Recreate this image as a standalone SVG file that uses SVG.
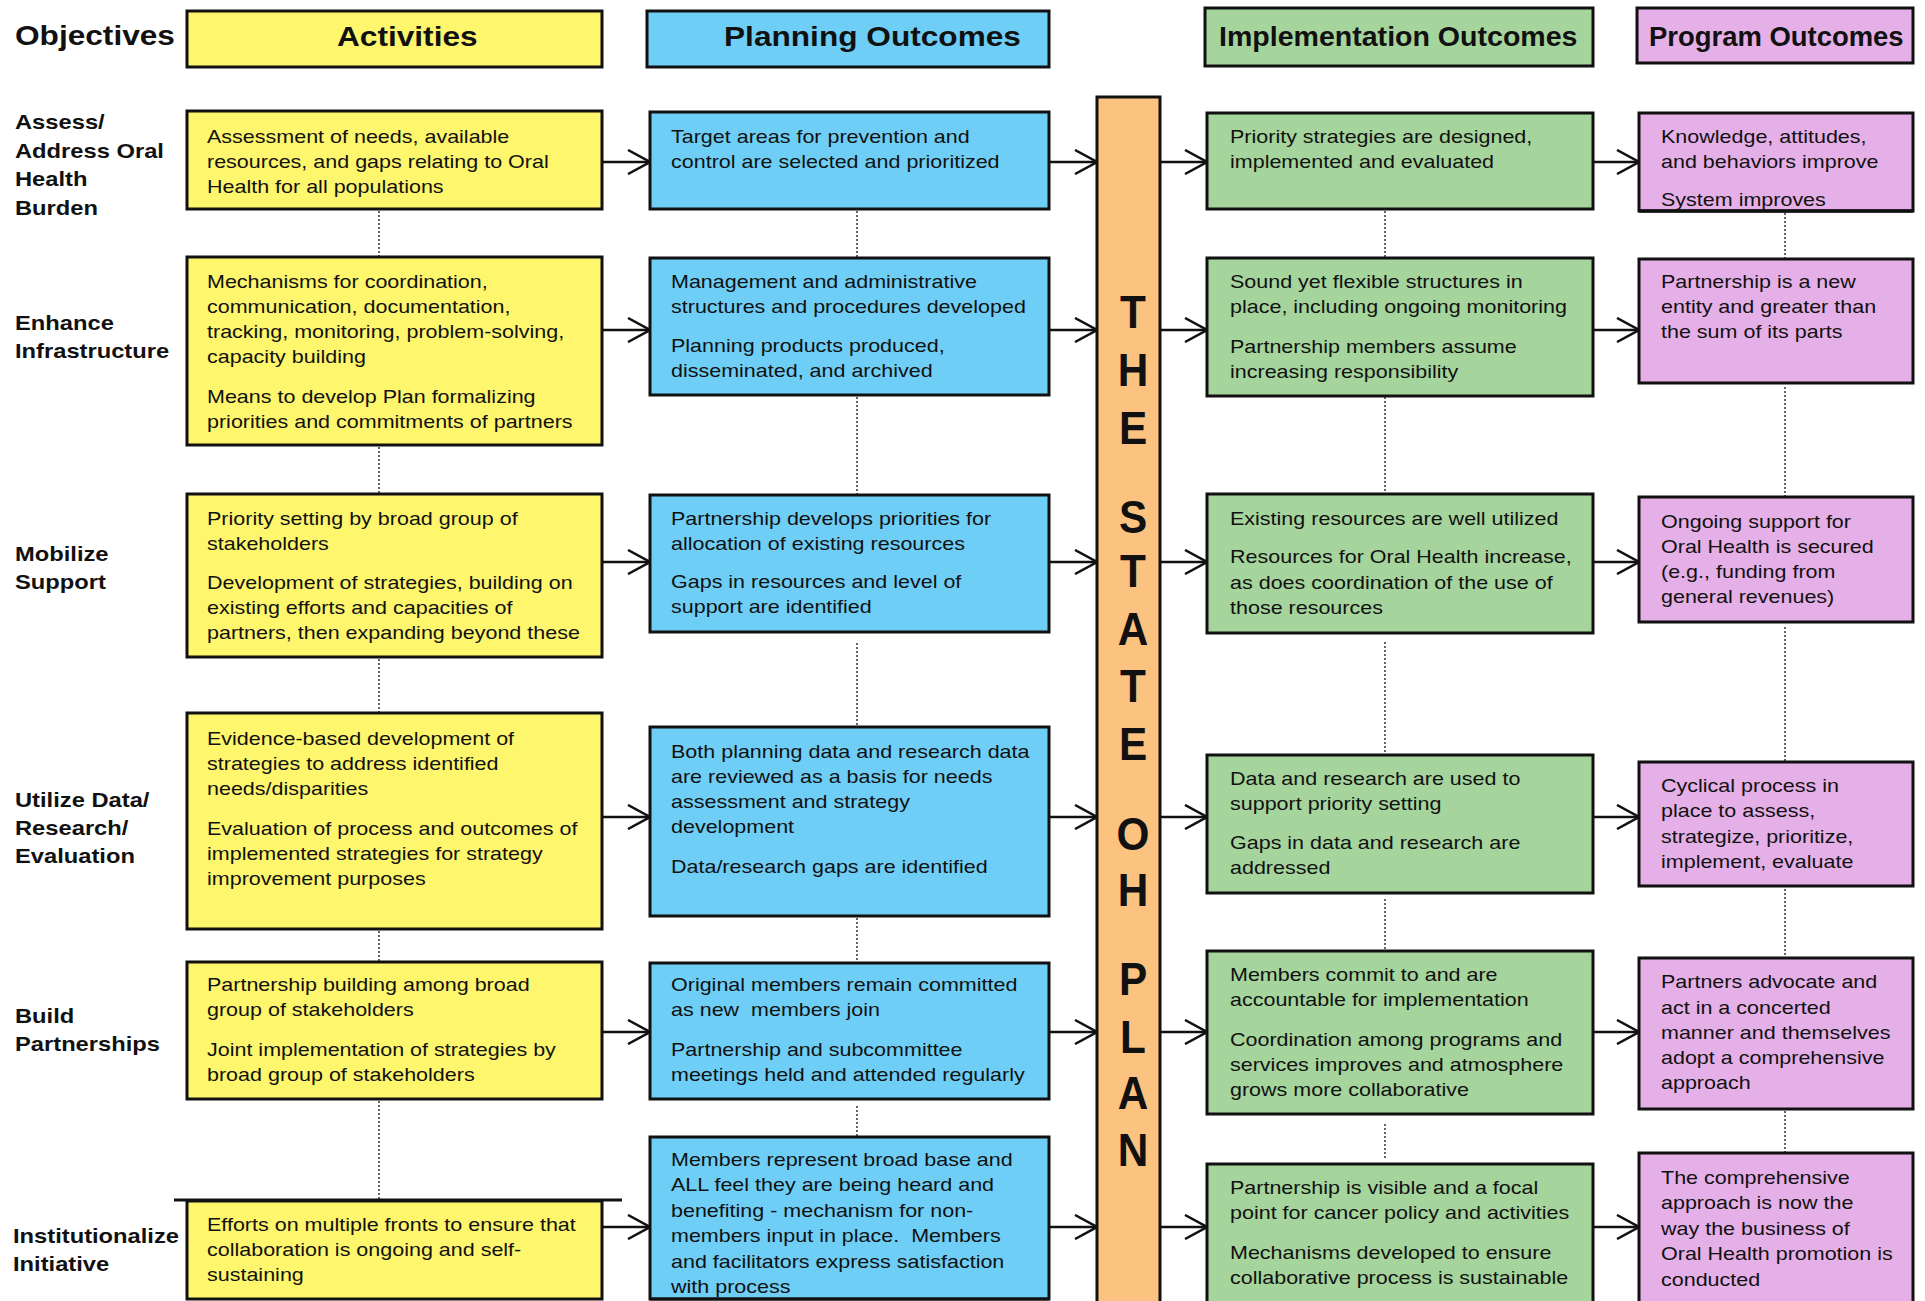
<svg xmlns="http://www.w3.org/2000/svg" width="1925" height="1301" viewBox="0 0 1925 1301">
<style>
.box{stroke:#111;stroke-width:3}
.y{fill:#FEF66C}.bl{fill:#6ECEF6}.g{fill:#A5D49C}.p{fill:#E5AFE7}.o{fill:#FCC27F}
text{font-family:"Liberation Sans",Arial,Helvetica,sans-serif;fill:#111}
.t{font-size:19.2px}
.lb{font-weight:bold;font-size:21px}
.hd{font-weight:bold;font-size:28px}
.bar{font-weight:bold;font-size:46px;text-anchor:middle}
.dot{stroke:#333;stroke-width:1.5;stroke-dasharray:2 2;fill:none}
.arr{stroke:#111;stroke-width:2.5;fill:none;marker-end:url(#ah)}
</style>
<defs>
<marker id="ah" viewBox="0 0 24 26" refX="23" refY="13" markerWidth="24" markerHeight="26" markerUnits="userSpaceOnUse" orient="auto"><path d="M1,1 L23,13 L1,25" fill="none" stroke="#111" stroke-width="2.5"/></marker>
</defs>
<rect width="1925" height="1301" fill="#fff"/>

<g id="headers">
<text class="hd" transform="translate(15,0) scale(1.13,1)"><tspan x="0" y="45">Objectives</tspan></text>
<g id="h-activities"><rect class="box y" x="187" y="11" width="415" height="56"/><text class="hd" transform="translate(337,0) scale(1.13,1)"><tspan x="0" y="46">Activities</tspan></text></g>
<g id="h-planning"><rect class="box bl" x="647" y="11" width="402" height="56"/><text class="hd" transform="translate(724,0) scale(1.13,1)"><tspan x="0" y="46">Planning Outcomes</tspan></text></g>
<g id="h-impl"><rect class="box g" x="1205" y="8" width="388" height="58"/><text class="hd" transform="translate(1219,0) scale(1.02,1)"><tspan x="0" y="46">Implementation Outcomes</tspan></text></g>
<g id="h-program"><rect class="box p" x="1637" y="8" width="276" height="55"/><text class="hd" transform="translate(1649,0) scale(0.98,1)"><tspan x="0" y="46">Program Outcomes</tspan></text></g>
</g>

<g id="objectives">
<text class="lb" transform="translate(15,0) scale(1.13,1)"><tspan x="0" y="129.5">Assess/</tspan><tspan x="0" y="158">Address Oral</tspan><tspan x="0" y="186.5">Health</tspan><tspan x="0" y="215">Burden</tspan></text>
<text class="lb" transform="translate(15,0) scale(1.13,1)"><tspan x="0" y="330">Enhance</tspan><tspan x="0" y="358">Infrastructure</tspan></text>
<text class="lb" transform="translate(15,0) scale(1.13,1)"><tspan x="0" y="561">Mobilize</tspan><tspan x="0" y="589">Support</tspan></text>
<text class="lb" transform="translate(15,0) scale(1.13,1)"><tspan x="0" y="807">Utilize Data/</tspan><tspan x="0" y="835">Research/</tspan><tspan x="0" y="863">Evaluation</tspan></text>
<text class="lb" transform="translate(15,0) scale(1.13,1)"><tspan x="0" y="1023">Build</tspan><tspan x="0" y="1051">Partnerships</tspan></text>
<text class="lb" transform="translate(13,0) scale(1.13,1)"><tspan x="0" y="1243">Institutionalize</tspan><tspan x="0" y="1271">Initiative</tspan></text>
</g>

<g id="connectors">
<line class="arr" x1="602" y1="162" x2="650" y2="162"/>
<line class="arr" x1="1049" y1="162" x2="1097" y2="162"/>
<line class="arr" x1="1160" y1="162" x2="1207" y2="162"/>
<line class="arr" x1="1593" y1="162" x2="1639" y2="162"/>
<line class="arr" x1="602" y1="330" x2="650" y2="330"/>
<line class="arr" x1="1049" y1="330" x2="1097" y2="330"/>
<line class="arr" x1="1160" y1="330" x2="1207" y2="330"/>
<line class="arr" x1="1593" y1="330" x2="1639" y2="330"/>
<line class="arr" x1="602" y1="562" x2="650" y2="562"/>
<line class="arr" x1="1049" y1="562" x2="1097" y2="562"/>
<line class="arr" x1="1160" y1="562" x2="1207" y2="562"/>
<line class="arr" x1="1593" y1="562" x2="1639" y2="562"/>
<line class="arr" x1="602" y1="817" x2="650" y2="817"/>
<line class="arr" x1="1049" y1="817" x2="1097" y2="817"/>
<line class="arr" x1="1160" y1="817" x2="1207" y2="817"/>
<line class="arr" x1="1593" y1="817" x2="1639" y2="817"/>
<line class="arr" x1="602" y1="1032" x2="650" y2="1032"/>
<line class="arr" x1="1049" y1="1032" x2="1097" y2="1032"/>
<line class="arr" x1="1160" y1="1032" x2="1207" y2="1032"/>
<line class="arr" x1="1593" y1="1032" x2="1639" y2="1032"/>
<line class="arr" x1="602" y1="1227" x2="650" y2="1227"/>
<line class="arr" x1="1049" y1="1227" x2="1097" y2="1227"/>
<line class="arr" x1="1160" y1="1227" x2="1207" y2="1227"/>
<line class="arr" x1="1593" y1="1227" x2="1639" y2="1227"/>
<line class="dot" x1="379" y1="211" x2="379" y2="257"/>
<line class="dot" x1="379" y1="447" x2="379" y2="494"/>
<line class="dot" x1="379" y1="659" x2="379" y2="713"/>
<line class="dot" x1="379" y1="931" x2="379" y2="962"/>
<line class="dot" x1="379" y1="1101" x2="379" y2="1199"/>
<line class="dot" x1="857" y1="211" x2="857" y2="258"/>
<line class="dot" x1="857" y1="397" x2="857" y2="495"/>
<line class="dot" x1="857" y1="643" x2="857" y2="727"/>
<line class="dot" x1="857" y1="918" x2="857" y2="963"/>
<line class="dot" x1="857" y1="1106" x2="857" y2="1137"/>
<line class="dot" x1="1385" y1="211" x2="1385" y2="258"/>
<line class="dot" x1="1385" y1="397" x2="1385" y2="494"/>
<line class="dot" x1="1385" y1="642" x2="1385" y2="755"/>
<line class="dot" x1="1385" y1="899" x2="1385" y2="951"/>
<line class="dot" x1="1385" y1="1124" x2="1385" y2="1158"/>
<line class="dot" x1="1785" y1="213" x2="1785" y2="259"/>
<line class="dot" x1="1785" y1="387" x2="1785" y2="497"/>
<line class="dot" x1="1785" y1="627" x2="1785" y2="762"/>
<line class="dot" x1="1785" y1="889" x2="1785" y2="958"/>
<line class="dot" x1="1785" y1="1111" x2="1785" y2="1153"/>
<line x1="174" y1="1200" x2="622" y2="1200" stroke="#111" stroke-width="3"/>
</g>

<g id="state-plan">
<rect class="box o" x="1097" y="97" width="63" height="1220"/>
<text class="bar" transform="translate(1133,0) scale(0.92,1)"><tspan x="0" y="328">T</tspan><tspan x="0" y="386">H</tspan><tspan x="0" y="444">E</tspan><tspan x="0" y="533">S</tspan><tspan x="0" y="587">T</tspan><tspan x="0" y="645">A</tspan><tspan x="0" y="702">T</tspan><tspan x="0" y="760">E</tspan><tspan x="0" y="850">O</tspan><tspan x="0" y="906">H</tspan><tspan x="0" y="995">P</tspan><tspan x="0" y="1053">L</tspan><tspan x="0" y="1109">A</tspan><tspan x="0" y="1166">N</tspan></text>
</g>

<g id="act1"><rect class="box y" x="187" y="111" width="415" height="98"/><text class="t" transform="translate(207,0) scale(1.12,1)"><tspan x="0" y="143.3">Assessment of needs, available</tspan><tspan x="0" y="168.3">resources, and gaps relating to Oral</tspan><tspan x="0" y="193.3">Health for all populations</tspan></text></g>
<g id="plan1"><rect class="box bl" x="650" y="112" width="399" height="97"/><text class="t" transform="translate(671,0) scale(1.12,1)"><tspan x="0" y="143.3">Target areas for prevention and</tspan><tspan x="0" y="168.3">control are selected and prioritized</tspan></text></g>
<g id="impl1"><rect class="box g" x="1207" y="113" width="386" height="96"/><text class="t" transform="translate(1230,0) scale(1.12,1)"><tspan x="0" y="143.3">Priority strategies are designed,</tspan><tspan x="0" y="168.3">implemented and evaluated</tspan></text></g>
<g id="prog1"><rect class="box p" x="1639" y="113" width="274" height="98"/><text class="t" transform="translate(1661,0) scale(1.12,1)"><tspan x="0" y="143.3">Knowledge, attitudes,</tspan><tspan x="0" y="168.3">and behaviors improve</tspan><tspan x="0" y="206">System improves</tspan></text><line x1="1639" y1="211" x2="1913" y2="211" stroke="#111" stroke-width="3.5"/></g>

<g id="act2"><rect class="box y" x="187" y="257" width="415" height="188"/><text class="t" transform="translate(207,0) scale(1.12,1)"><tspan x="0" y="288">Mechanisms for coordination,</tspan><tspan x="0" y="313">communication, documentation,</tspan><tspan x="0" y="338">tracking, monitoring, problem-solving,</tspan><tspan x="0" y="363">capacity building</tspan><tspan x="0" y="403">Means to develop Plan formalizing</tspan><tspan x="0" y="428">priorities and commitments of partners</tspan></text></g>
<g id="plan2"><rect class="box bl" x="650" y="258" width="399" height="137"/><text class="t" transform="translate(671,0) scale(1.12,1)"><tspan x="0" y="288">Management and administrative</tspan><tspan x="0" y="313">structures and procedures developed</tspan><tspan x="0" y="352">Planning products produced,</tspan><tspan x="0" y="377">disseminated, and archived</tspan></text></g>
<g id="impl2"><rect class="box g" x="1207" y="258" width="386" height="138"/><text class="t" transform="translate(1230,0) scale(1.12,1)"><tspan x="0" y="288">Sound yet flexible structures in</tspan><tspan x="0" y="313">place, including ongoing monitoring</tspan><tspan x="0" y="353">Partnership members assume</tspan><tspan x="0" y="378">increasing responsibility</tspan></text></g>
<g id="prog2"><rect class="box p" x="1639" y="259" width="274" height="124"/><text class="t" transform="translate(1661,0) scale(1.12,1)"><tspan x="0" y="288">Partnership is a new</tspan><tspan x="0" y="313">entity and greater than</tspan><tspan x="0" y="338">the sum of its parts</tspan></text></g>

<g id="act3"><rect class="box y" x="187" y="494" width="415" height="163"/><text class="t" transform="translate(207,0) scale(1.12,1)"><tspan x="0" y="525">Priority setting by broad group of</tspan><tspan x="0" y="550">stakeholders</tspan><tspan x="0" y="589">Development of strategies, building on</tspan><tspan x="0" y="614">existing efforts and capacities of</tspan><tspan x="0" y="639">partners, then expanding beyond these</tspan></text></g>
<g id="plan3"><rect class="box bl" x="650" y="495" width="399" height="137"/><text class="t" transform="translate(671,0) scale(1.12,1)"><tspan x="0" y="525">Partnership develops priorities for</tspan><tspan x="0" y="550">allocation of existing resources</tspan><tspan x="0" y="588">Gaps in resources and level of</tspan><tspan x="0" y="613">support are identified</tspan></text></g>
<g id="impl3"><rect class="box g" x="1207" y="494" width="386" height="139"/><text class="t" transform="translate(1230,0) scale(1.12,1)"><tspan x="0" y="525">Existing resources are well utilized</tspan><tspan x="0" y="563">Resources for Oral Health increase,</tspan><tspan x="0" y="589">as does coordination of the use of</tspan><tspan x="0" y="614">those resources</tspan></text></g>
<g id="prog3"><rect class="box p" x="1639" y="497" width="274" height="125"/><text class="t" transform="translate(1661,0) scale(1.12,1)"><tspan x="0" y="528">Ongoing support for</tspan><tspan x="0" y="553">Oral Health is secured</tspan><tspan x="0" y="578">(e.g., funding from</tspan><tspan x="0" y="603">general revenues)</tspan></text></g>

<g id="act4"><rect class="box y" x="187" y="713" width="415" height="216"/><text class="t" transform="translate(207,0) scale(1.12,1)"><tspan x="0" y="745">Evidence-based development of</tspan><tspan x="0" y="770">strategies to address identified</tspan><tspan x="0" y="795">needs/disparities</tspan><tspan x="0" y="835">Evaluation of process and outcomes of</tspan><tspan x="0" y="860">implemented strategies for strategy</tspan><tspan x="0" y="885">improvement purposes</tspan></text></g>
<g id="plan4"><rect class="box bl" x="650" y="727" width="399" height="189"/><text class="t" transform="translate(671,0) scale(1.12,1)"><tspan x="0" y="758">Both planning data and research data</tspan><tspan x="0" y="783">are reviewed as a basis for needs</tspan><tspan x="0" y="808">assessment and strategy</tspan><tspan x="0" y="833">development</tspan><tspan x="0" y="873">Data/research gaps are identified</tspan></text></g>
<g id="impl4"><rect class="box g" x="1207" y="755" width="386" height="138"/><text class="t" transform="translate(1230,0) scale(1.12,1)"><tspan x="0" y="785">Data and research are used to</tspan><tspan x="0" y="810">support priority setting</tspan><tspan x="0" y="849">Gaps in data and research are</tspan><tspan x="0" y="874">addressed</tspan></text></g>
<g id="prog4"><rect class="box p" x="1639" y="762" width="274" height="124"/><text class="t" transform="translate(1661,0) scale(1.12,1)"><tspan x="0" y="792">Cyclical process in</tspan><tspan x="0" y="817">place to assess,</tspan><tspan x="0" y="843">strategize, prioritize,</tspan><tspan x="0" y="868">implement, evaluate</tspan></text></g>

<g id="act5"><rect class="box y" x="187" y="962" width="415" height="137"/><text class="t" transform="translate(207,0) scale(1.12,1)"><tspan x="0" y="991">Partnership building among broad</tspan><tspan x="0" y="1016">group of stakeholders</tspan><tspan x="0" y="1056">Joint implementation of strategies by</tspan><tspan x="0" y="1081">broad group of stakeholders</tspan></text></g>
<g id="plan5"><rect class="box bl" x="650" y="963" width="399" height="136"/><text class="t" transform="translate(671,0) scale(1.12,1)"><tspan x="0" y="991">Original members remain committed</tspan><tspan x="0" y="1016">as new&#160; members join</tspan><tspan x="0" y="1056">Partnership and subcommittee</tspan><tspan x="0" y="1081">meetings held and attended regularly</tspan></text></g>
<g id="impl5"><rect class="box g" x="1207" y="951" width="386" height="163"/><text class="t" transform="translate(1230,0) scale(1.12,1)"><tspan x="0" y="981">Members commit to and are</tspan><tspan x="0" y="1006">accountable for implementation</tspan><tspan x="0" y="1046">Coordination among programs and</tspan><tspan x="0" y="1071">services improves and atmosphere</tspan><tspan x="0" y="1096">grows more collaborative</tspan></text></g>
<g id="prog5"><rect class="box p" x="1639" y="958" width="274" height="151"/><text class="t" transform="translate(1661,0) scale(1.12,1)"><tspan x="0" y="988">Partners advocate and</tspan><tspan x="0" y="1014">act in a concerted</tspan><tspan x="0" y="1039">manner and themselves</tspan><tspan x="0" y="1064">adopt a comprehensive</tspan><tspan x="0" y="1089">approach</tspan></text></g>

<g id="act6"><rect class="box y" x="187" y="1201" width="415" height="98"/><text class="t" transform="translate(207,0) scale(1.12,1)"><tspan x="0" y="1231">Efforts on multiple fronts to ensure that</tspan><tspan x="0" y="1256">collaboration is ongoing and self-</tspan><tspan x="0" y="1281">sustaining</tspan></text></g>
<g id="plan6"><rect class="box bl" x="650" y="1137" width="399" height="162"/><text class="t" transform="translate(671,0) scale(1.12,1)"><tspan x="0" y="1166">Members represent broad base and</tspan><tspan x="0" y="1191.5">ALL feel they are being heard and</tspan><tspan x="0" y="1217">benefiting - mechanism for non-</tspan><tspan x="0" y="1242.5">members input in place.&#160; Members</tspan><tspan x="0" y="1268">and facilitators express satisfaction</tspan><tspan x="0" y="1293.5">with process</tspan></text><line x1="650" y1="1299" x2="1049" y2="1299" stroke="#111" stroke-width="3"/></g>
<g id="impl6"><rect class="box g" x="1207" y="1164" width="386" height="150"/><text class="t" transform="translate(1230,0) scale(1.12,1)"><tspan x="0" y="1194">Partnership is visible and a focal</tspan><tspan x="0" y="1219">point for cancer policy and activities</tspan><tspan x="0" y="1259">Mechanisms developed to ensure</tspan><tspan x="0" y="1284">collaborative process is sustainable</tspan></text></g>
<g id="prog6"><rect class="box p" x="1639" y="1153" width="274" height="160"/><text class="t" transform="translate(1661,0) scale(1.12,1)"><tspan x="0" y="1184">The comprehensive</tspan><tspan x="0" y="1209">approach is now the</tspan><tspan x="0" y="1235">way the business of</tspan><tspan x="0" y="1260">Oral Health promotion is</tspan><tspan x="0" y="1286">conducted</tspan></text></g>
</svg>
